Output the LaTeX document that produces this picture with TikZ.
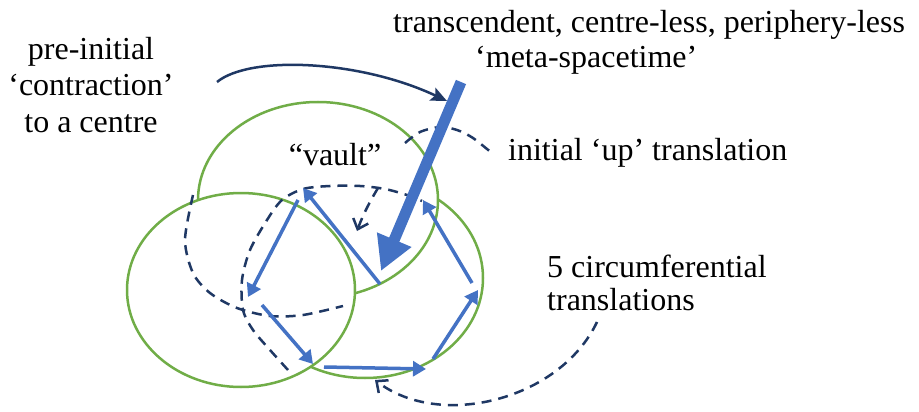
\documentclass[tikz,border=0pt]{standalone}
\usepackage{fontspec}
\setmainfont{Liberation Serif}
\usetikzlibrary{arrows.meta}
\definecolor{ringgreen}{HTML}{70AD47}
\definecolor{moveblue}{HTML}{4472C4}
\definecolor{darknavy}{HTML}{1F3864}
\begin{document}
\begin{tikzpicture}[x=1pt, y=-1pt,
        every node/.style={inner sep=0pt, font=\fontsize{32}{35}\selectfont},
        ring/.style={draw=ringgreen, line width=2.5pt, fill=white},
        hidden/.style={draw=darknavy, line width=2.5pt, dash pattern=on 10pt off 7pt},
        move/.style={draw=moveblue, line width=3.5pt, -{Triangle[length=13pt,width=15pt]}},
        openhead/.style={-{Straight Barb[length=9pt,width=16pt,line width=2.5pt]}}]
        \useasboundingbox (0,0) rectangle (919,412);
        \fill[white] (0,0) rectangle (919,412);

        \draw[ring] (365,278) ellipse (118pt and 100pt);
        \draw[ring] (318,200) ellipse (120pt and 98pt);
        \draw[ring] (241,290) ellipse (114pt and 97pt);

        \node[align=center, anchor=base, font=\fontsize{32}{36.5}\selectfont] (contraction) at (91,132)
            {pre-initial\\‘contraction’\\to a centre};
        \node[align=left, anchor=base west] (meta) at (393,67)
            {transcendent, centre-less, periphery-less\\\hspace*{82pt}‘meta-spacetime’};
        \node[anchor=base west] (up) at (508,160) {initial ‘up’ translation};
        \node[align=left, anchor=base west, font=\fontsize{32}{33}\selectfont] (circum) at (547,310)
            {5 circumferential\\translations};
        \node[anchor=base] (vault) at (335,165) {“vault”};

        \coordinate (pull) at (217,82);
        \coordinate (top) at (461,82);
        \coordinate (hit) at (447,101);
        \coordinate (centre) at (381,271);
        \coordinate (lift) at (378,188);
        \coordinate (drop) at (357,231);
        \coordinate (tail) at (597,322);
        \coordinate (back) at (375,380);

        \coordinate (a1) at (298,200);  \coordinate (b1) at (248,297);
        \coordinate (a2) at (262,305);  \coordinate (b2) at (313,364);
        \coordinate (a3) at (324,367);  \coordinate (b3) at (426,369);
        \coordinate (a4) at (433,359);  \coordinate (b4) at (478,290);
        \coordinate (a5) at (472,283);  \coordinate (b5) at (423,200);
        \coordinate (a6) at (380,284);  \coordinate (b6) at (303,188);

        \draw[hidden] plot[smooth] coordinates {(193,195) (185,240) (193,273) (210,293) (237,308)
            (270,316) (303,315) (343,306)};
        \draw[hidden] plot[smooth] coordinates {(288,370) (270,350) (253,330) (243,310) (242,280)
            (250,250) (267,220) (282,200) (303,189) (330,186) (360,186) (385,189) (407,195) (422,201)};
        \draw[hidden] plot[smooth] coordinates {(405,143) (420,132) (440,127) (457,130) (473,138) (493,154)};
        \draw[hidden, openhead] (lift) .. controls (372,198) and (364,212) .. (drop);
        \draw[hidden, openhead] (tail) .. controls (560,400) and (440,430) .. (back);

        \foreach \i in {1,...,6}
            \draw[move] (a\i) -- (b\i);

        \draw[darknavy, line width=2.5pt, -{Stealth[length=16pt,width=14pt,inset=3pt]}]
            (pull) .. controls (250,55) and (360,60) .. (hit);
        \draw[moveblue, line width=11pt, -{Triangle[length=34pt,width=35pt]}] (top) -- (centre);
    \end{tikzpicture}
\end{document}
